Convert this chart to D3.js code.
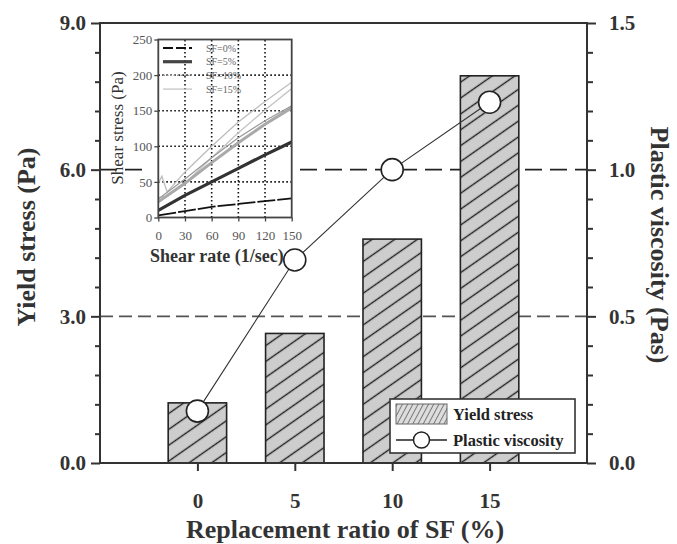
<!DOCTYPE html>
<html>
<head>
<meta charset="utf-8">
<script src="https://cdn.jsdelivr.net/npm/d3@7"></script>
<style>
  html, body { margin: 0; padding: 0; background: #fff; }
  svg { display: block; font-family: "Liberation Serif", "Times New Roman", serif; }
</style>
</head>
<body>
<svg id="chart" width="677" height="544"></svg>
<script>
// Main chart: silica fume replacement vs. yield stress (bars) and plastic viscosity (line)
const sfRatio = [0, 5, 10, 15];
const yieldStress = [1.23, 2.65, 4.58, 7.92];
const plasticViscosity = [0.177, 0.692, 1.0, 1.23];
const leftTicks = [0, 3, 6, 9];
const rightTicks = [0, 0.5, 1.0, 1.5];
const legendLabels = ["Yield stress", "Plastic viscosity"];

// Inset: flow curves (shear stress vs. shear rate)
const insetRateTicks = [0, 30, 60, 90, 120, 150];
const insetStressTicks = [0, 50, 100, 150, 200, 250];
const shearRate = [0, 30, 60, 90, 120, 150];
const sf0Stress = [3, 9, 15, 19, 23, 27];
const sf5Stress = [10, 31, 50, 69, 88, 106];
const sf10StressA = [22, 48, 77, 105, 131, 154];
const sf10StressB = [26, 54, 84, 112, 136, 157];
const sf15RateA = [0, 4, 10, 30, 60, 90, 120, 150];
const sf15StressA = [48, 58, 36, 64, 100, 134, 163, 190];
const sf15RateB = [0, 10, 30, 60, 90, 120, 150];
const sf15StressB = [28, 30, 48, 84, 119, 151, 181];
const insetLegend = ["SF=0%", "SF=5%", "SF=10%", "SF=15%"];

const svg = d3.select("#chart");
const ink = "#222";

const x = d3.scaleLinear().domain([-5, 20]).range([100, 587]);
const yL = d3.scaleLinear().domain([0, 9]).range([463, 23]);
const yR = d3.scaleLinear().domain([0, 1.5]).range([463, 23]);

// hatch patterns
const defs = svg.append("defs");
const hatch = defs.append("pattern")
  .attr("id", "hatch").attr("patternUnits", "userSpaceOnUse")
  .attr("width", 20).attr("height", 13)
  .attr("patternTransform", "rotate(-35)");
hatch.append("rect").attr("width", 20).attr("height", 13).attr("fill", "#cdcdcd");
hatch.append("line").attr("x1", 0).attr("x2", 20).attr("y1", 6.5).attr("y2", 6.5)
  .attr("stroke", "#1e1e1e").attr("stroke-width", 1.4);

const hatchSmall = defs.append("pattern")
  .attr("id", "hatchSmall").attr("patternUnits", "userSpaceOnUse")
  .attr("width", 10).attr("height", 4.6)
  .attr("patternTransform", "rotate(-62)");
hatchSmall.append("rect").attr("width", 10).attr("height", 4.6).attr("fill", "#dedede");
hatchSmall.append("line").attr("x1", 0).attr("x2", 10).attr("y1", 2.3).attr("y2", 2.3)
  .attr("stroke", "#777").attr("stroke-width", 1);

// horizontal dashed reference lines
svg.append("line").attr("x1", 100).attr("x2", 587).attr("y1", yL(6)).attr("y2", yL(6))
  .attr("stroke", "#222").attr("stroke-width", 1.8).attr("stroke-dasharray", "17,8");
svg.append("line").attr("x1", 100).attr("x2", 587).attr("y1", yL(3)).attr("y2", yL(3))
  .attr("stroke", "#555").attr("stroke-width", 1.8).attr("stroke-dasharray", "13,6");

// bars
const barHalf = 1.5;
svg.append("g").selectAll("rect").data(sfRatio).join("rect")
  .attr("x", d => x(d - barHalf))
  .attr("width", d => x(d + barHalf) - x(d - barHalf))
  .attr("y", (d, i) => yL(yieldStress[i]))
  .attr("height", (d, i) => yL(0) - yL(yieldStress[i]))
  .attr("fill", "url(#hatch)").attr("stroke", ink).attr("stroke-width", 1.6);

// ---------- inset ----------
const xi = d3.scaleLinear().domain([0, 150]).range([158.3, 291.7]);
const yi = d3.scaleLinear().domain([0, 250]).range([217.5, 39.5]);
const inset = svg.append("g");
inset.append("rect").attr("x", 143).attr("y", 30).attr("width", 153).attr("height", 215).attr("fill", "#fff");

defs.append("clipPath").attr("id", "insetClip").append("rect")
  .attr("x", xi(0)).attr("y", yi(250)).attr("width", xi(150) - xi(0)).attr("height", yi(0) - yi(250));

// dotted grid
const grid = inset.append("g").attr("stroke", "#111").attr("stroke-width", 1.6).attr("stroke-dasharray", "1.6,2.4");
grid.selectAll("line.v").data(insetRateTicks.slice(1, -1)).join("line")
  .attr("x1", d => xi(d)).attr("x2", d => xi(d)).attr("y1", yi(0)).attr("y2", yi(250));
grid.selectAll("line.h").data(insetStressTicks.slice(1, -1)).join("line")
  .attr("x1", xi(0)).attr("x2", xi(150)).attr("y1", d => yi(d)).attr("y2", d => yi(d));

const curve = d3.line().x(d => xi(d[0])).y(d => yi(d[1]));
const zip = (a, b) => a.map((v, i) => [v, b[i]]);
const curves = inset.append("g").attr("clip-path", "url(#insetClip)").attr("fill", "none");
curves.append("path").attr("d", curve(zip(sf15RateB, sf15StressB))).attr("stroke", "#c4c4c4").attr("stroke-width", 1.3);
curves.append("path").attr("d", curve(zip(sf15RateA, sf15StressA))).attr("stroke", "#bdbdbd").attr("stroke-width", 1.3);
curves.append("path").attr("d", curve(zip(shearRate, sf10StressA))).attr("stroke", "#a9a9a9").attr("stroke-width", 3);
curves.append("path").attr("d", curve(zip(shearRate, sf10StressB))).attr("stroke", "#999").attr("stroke-width", 1.2);
curves.append("path").attr("d", curve(zip(shearRate, sf5Stress))).attr("stroke", "#333").attr("stroke-width", 3.2);
curves.append("path").attr("d", curve(zip(shearRate, sf0Stress))).attr("stroke", "#111").attr("stroke-width", 1.8)
  .attr("stroke-dasharray", "18,2");

// inset legend
const legStyles = [
  { stroke: "#111", w: 1.8, dash: "10,3" },
  { stroke: "#444", w: 3.2, dash: null },
  { stroke: "#999", w: 1.4, dash: "2,1.5" },
  { stroke: "#c4c4c4", w: 1.3, dash: null }
];
const il = inset.append("g");
insetLegend.forEach((t, i) => {
  const yy = 48 + i * 13.7;
  il.append("line").attr("x1", 163).attr("x2", 192).attr("y1", yy).attr("y2", yy)
    .attr("stroke", legStyles[i].stroke).attr("stroke-width", legStyles[i].w)
    .attr("stroke-dasharray", legStyles[i].dash);
  il.append("text").attr("x", 206).attr("y", yy + 3.5).attr("font-size", 10)
    .attr("fill", "#666").text(t);
});

inset.append("rect").attr("x", xi(0)).attr("y", yi(250)).attr("width", xi(150) - xi(0)).attr("height", yi(0) - yi(250))
  .attr("fill", "none").attr("stroke", "#444").attr("stroke-width", 1.8);

const ixAxis = inset.append("g").attr("transform", `translate(0,${yi(0)})`)
  .call(d3.axisBottom(xi).tickValues(insetRateTicks).tickSize(4).tickSizeOuter(0).tickPadding(9));
const iyAxis = inset.append("g").attr("transform", `translate(${xi(0)},0)`)
  .call(d3.axisLeft(yi).tickValues(insetStressTicks).tickSize(4).tickSizeOuter(0).tickPadding(2));
[ixAxis, iyAxis].forEach(g => {
  g.select(".domain").remove();
  g.selectAll("line").attr("stroke", "#444").attr("stroke-width", 1.3);
  g.selectAll("text").attr("font-family", "Liberation Serif, serif").attr("font-size", 13).attr("fill", "#555");
});

inset.append("text").attr("x", 150).attr("y", 262).attr("font-size", 18).attr("font-weight", "bold")
  .attr("fill", "#333").text("Shear rate (1/sec)");
inset.append("text").attr("transform", "translate(123,128) rotate(-90)").attr("text-anchor", "middle")
  .attr("font-size", 17).attr("fill", "#333").text("Shear stress (Pa)");

// ---------- viscosity line + markers ----------
const vLine = d3.line().x(d => x(d[0])).y(d => yR(d[1]));
svg.append("path").attr("d", vLine(zip(sfRatio, plasticViscosity)))
  .attr("fill", "none").attr("stroke", "#333").attr("stroke-width", 1.1);
svg.append("g").selectAll("circle").data(sfRatio).join("circle")
  .attr("cx", d => x(d)).attr("cy", (d, i) => yR(plasticViscosity[i])).attr("r", 11)
  .attr("fill", "#fff").attr("stroke", ink).attr("stroke-width", 1.6);

// ---------- legend ----------
const lg = svg.append("g");
lg.append("rect").attr("x", 390).attr("y", 399).attr("width", 185).attr("height", 54)
  .attr("fill", "#fff").attr("stroke", "#333").attr("stroke-width", 1.6);
lg.append("rect").attr("x", 396).attr("y", 404).attr("width", 51).attr("height", 20)
  .attr("fill", "url(#hatchSmall)").attr("stroke", "#666").attr("stroke-width", 1);
lg.append("line").attr("x1", 396).attr("x2", 447).attr("y1", 440).attr("y2", 440)
  .attr("stroke", ink).attr("stroke-width", 1.3);
lg.append("circle").attr("cx", 421.5).attr("cy", 440).attr("r", 8)
  .attr("fill", "#fff").attr("stroke", ink).attr("stroke-width", 1.5);
legendLabels.forEach((t, i) => {
  lg.append("text").attr("x", 453).attr("y", 420 + i * 25.5).attr("font-size", 16.5)
    .attr("font-weight", "bold").attr("fill", "#222").text(t);
});

// ---------- axes ----------
const frame = svg.append("g");
frame.append("rect").attr("x", 100).attr("y", 23).attr("width", 487).attr("height", 440)
  .attr("fill", "none").attr("stroke", "#333").attr("stroke-width", 2);

const leftMinor = d3.range(0, 9.001, 0.6).filter(v => Math.abs(v / 3 - Math.round(v / 3)) > 1e-6);
const rightMinor = d3.range(0, 1.5001, 0.1).filter(v => Math.abs(v / 0.5 - Math.round(v / 0.5)) > 1e-6);

function styleAxis(g, size) {
  g.select(".domain").remove();
  g.selectAll("line").attr("stroke", "#333").attr("stroke-width", 2);
  g.selectAll("text").attr("font-family", "Liberation Serif, serif").attr("font-weight", "bold")
    .attr("font-size", size).attr("fill", "#333");
}

styleAxis(svg.append("g").attr("transform", "translate(100,0)")
  .call(d3.axisLeft(yL).tickValues(leftTicks).tickFormat(d3.format(".1f")).tickSize(9).tickSizeOuter(0).tickPadding(5)), 21);
styleAxis(svg.append("g").attr("transform", "translate(100,0)")
  .call(d3.axisLeft(yL).tickValues(leftMinor).tickFormat("").tickSize(5).tickSizeOuter(0)), 21);
styleAxis(svg.append("g").attr("transform", "translate(587,0)")
  .call(d3.axisRight(yR).tickValues(rightTicks).tickFormat(d3.format(".1f")).tickSize(9).tickSizeOuter(0).tickPadding(13)), 21);
styleAxis(svg.append("g").attr("transform", "translate(587,0)")
  .call(d3.axisRight(yR).tickValues(rightMinor).tickFormat("").tickSize(6).tickSizeOuter(0)), 21);
styleAxis(svg.append("g").attr("transform", "translate(0,463)")
  .call(d3.axisBottom(x).tickValues(sfRatio).tickSize(8).tickSizeOuter(0).tickPadding(22)), 21);

// axis titles
svg.append("text").attr("transform", "translate(35,237) rotate(-90)").attr("text-anchor", "middle")
  .attr("font-size", 26).attr("font-weight", "bold").attr("fill", "#333").text("Yield stress (Pa)");
svg.append("text").attr("transform", "translate(651,245) rotate(90)").attr("text-anchor", "middle")
  .attr("font-size", 26).attr("font-weight", "bold").attr("fill", "#333").text("Plastic viscosity (Pas)");
svg.append("text").attr("x", 345).attr("y", 538).attr("text-anchor", "middle")
  .attr("font-size", 26).attr("font-weight", "bold").attr("fill", "#333").text("Replacement ratio of SF (%)");
</script>
</body>
</html>
